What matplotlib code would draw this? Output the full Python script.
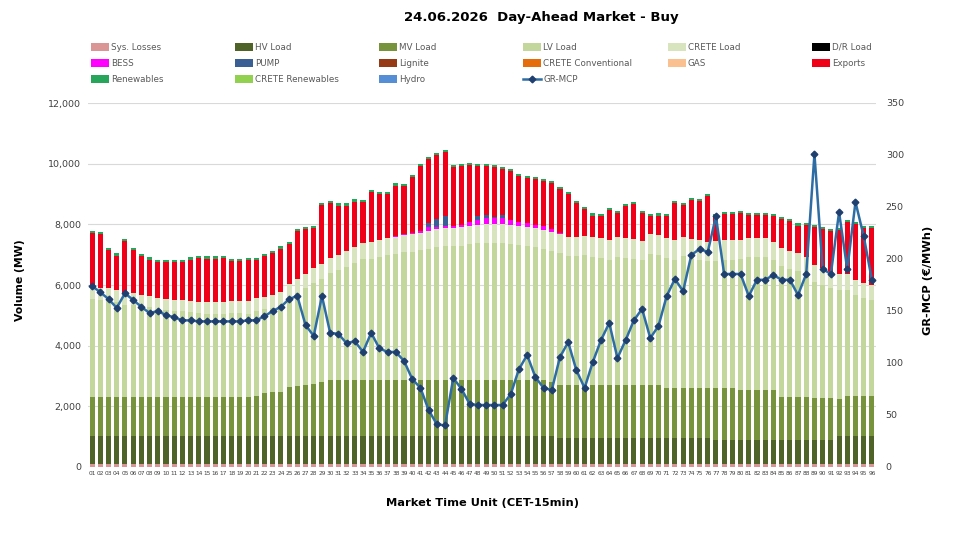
import matplotlib
matplotlib.use("Agg")
import matplotlib.pyplot as plt
import numpy as np
from matplotlib.patches import Rectangle
from matplotlib.lines import Line2D

# market time units 01..96
mtu = [f"{i:02d}" for i in range(1, 97)]

sys_losses = [100, 100, 100, 100, 100, 100, 100, 100, 100, 100, 100, 100, 100, 100, 100, 100,
              100, 100, 100, 100, 100, 100, 100, 100, 100, 110, 110, 110, 110, 110, 110, 110,
              110, 110, 110, 110, 110, 110, 110, 110, 110, 110, 110, 110, 110, 110, 110, 110,
              110, 110, 110, 110, 110, 110, 110, 110, 110, 110, 110, 110, 110, 110, 110, 110,
              110, 110, 110, 110, 110, 110, 110, 110, 110, 110, 110, 110, 110, 110, 110, 110,
              110, 110, 110, 110, 110, 110, 110, 110, 110, 110, 110, 110, 110, 110, 110, 110]
hv_load = [930, 930, 930, 930, 930, 930, 930, 930, 930, 930, 930, 930, 930, 930, 930, 930,
           930, 930, 930, 930, 930, 930, 930, 930, 930, 920, 920, 920, 920, 920, 920, 920,
           920, 920, 920, 920, 920, 920, 920, 920, 920, 920, 920, 920, 920, 920, 920, 920,
           920, 920, 920, 920, 920, 920, 920, 920, 920, 860, 860, 860, 860, 860, 860, 860,
           860, 860, 860, 860, 860, 860, 860, 860, 860, 860, 860, 860, 780, 780, 780, 780,
           780, 780, 780, 780, 780, 780, 780, 780, 780, 780, 780, 910, 910, 910, 910, 910]
mv_load = [1270, 1270, 1270, 1270, 1270, 1270, 1270, 1270, 1270, 1270, 1270, 1270, 1270, 1270, 1270, 1270,
           1270, 1270, 1270, 1270, 1310, 1400, 1430, 1450, 1620, 1640, 1670, 1710, 1780, 1840, 1840, 1840,
           1840, 1840, 1840, 1840, 1840, 1840, 1840, 1840, 1840, 1840, 1840, 1840, 1830, 1830, 1830, 1830,
           1830, 1830, 1830, 1830, 1830, 1830, 1830, 1830, 1770, 1730, 1730, 1730, 1730, 1730, 1730, 1730,
           1730, 1730, 1730, 1730, 1730, 1730, 1630, 1630, 1630, 1630, 1630, 1630, 1710, 1710, 1710, 1650,
           1650, 1650, 1650, 1650, 1430, 1430, 1430, 1430, 1400, 1400, 1400, 1220, 1320, 1320, 1320, 1320]
lv_load = [3225, 3200, 3190, 3140, 3040, 3040, 2990, 2960, 2900, 2860, 2840, 2840, 2800, 2780, 2760, 2760,
           2760, 2780, 2770, 2760, 2810, 2770, 2780, 2860, 2930, 3060, 3190, 3330, 3390, 3510, 3610, 3730,
           3860, 3990, 3990, 4050, 4110, 4150, 4210, 4220, 4270, 4330, 4380, 4400, 4410, 4440, 4480, 4510,
           4530, 4540, 4530, 4500, 4470, 4420, 4380, 4320, 4330, 4340, 4250, 4250, 4280, 4230, 4200, 4140,
           4230, 4200, 4160, 4110, 4320, 4300, 4290, 4230, 4340, 4270, 4230, 4190, 4200, 4240, 4240, 4330,
           4370, 4390, 4380, 4270, 4310, 4220, 4140, 4020, 3810, 3710, 3610, 3590, 3500, 3320, 3240, 3170]
crete_load = [420, 410, 400, 400, 390, 390, 380, 380, 380, 370, 370, 370, 370, 370, 370, 370,
              380, 380, 390, 400, 410, 420, 430, 440, 450, 460, 470, 480, 490, 500, 510, 520,
              530, 540, 550, 560, 560, 570, 570, 580, 580, 590, 590, 600, 600, 600, 610, 610,
              610, 610, 620, 620, 620, 620, 630, 630, 630, 630, 640, 640, 640, 640, 640, 640,
              640, 640, 650, 650, 650, 650, 650, 650, 650, 650, 650, 640, 640, 640, 640, 630,
              630, 620, 620, 610, 600, 590, 580, 570, 560, 550, 540, 530, 520, 510, 500, 490]
bess = [0, 0, 0, 0, 0, 0, 0, 0, 0, 0, 0, 0, 0, 0, 0, 0,
        0, 0, 0, 0, 0, 0, 0, 0, 0, 0, 0, 0, 0, 0, 0, 0,
        0, 0, 0, 0, 0, 30, 30, 40, 70, 110, 70, 90, 70, 90, 140, 165,
        200, 190, 190, 165, 140, 130, 110, 130, 80, 50, 0, 0, 0, 0, 0, 0,
        0, 0, 0, 0, 0, 0, 0, 0, 0, 0, 0, 0, 0, 0, 0, 0,
        0, 0, 0, 0, 0, 0, 0, 0, 0, 0, 0, 0, 0, 0, 0, 0]
pump = [0, 0, 0, 0, 0, 0, 0, 0, 0, 0, 0, 0, 0, 0, 0, 0,
        0, 0, 0, 0, 0, 0, 0, 0, 0, 0, 0, 0, 0, 0, 0, 0,
        0, 0, 0, 0, 0, 0, 0, 0, 0, 140, 275, 300, 0, 0, 0, 130,
        110, 40, 110, 0, 0, 0, 0, 0, 0, 0, 0, 0, 0, 0, 0, 0,
        0, 0, 0, 0, 0, 0, 0, 0, 0, 0, 0, 0, 0, 0, 0, 0,
        0, 0, 0, 0, 0, 0, 0, 0, 0, 0, 0, 0, 0, 0, 0, 0]
exports = [1765, 1760, 1270, 1130, 1720, 1410, 1270, 1200, 1180, 1230, 1250, 1250, 1370, 1440, 1440, 1440,
           1450, 1330, 1330, 1350, 1250, 1320, 1380, 1420, 1330, 1590, 1490, 1340, 1950, 1810, 1630, 1500,
           1490, 1320, 1650, 1520, 1460, 1660, 1590, 1860, 2130, 2120, 2100, 2120, 1950, 1920, 1850, 1660,
           1600, 1650, 1520, 1610, 1490, 1490, 1520, 1500, 1520, 1450, 1420, 1120, 890, 720, 730, 1000,
           810, 1060, 1170, 920, 600, 640, 720, 1230, 1050, 1270, 1280, 1490, 830, 850, 850, 860,
           770, 760, 760, 850, 930, 990, 920, 1080, 1250, 1280, 1340, 1440, 1710, 1850, 1810, 1880]
renewables = [70, 70, 70, 70, 70, 70, 70, 70, 70, 70, 70, 70, 70, 70, 70, 70,
              70, 70, 70, 70, 70, 70, 70, 70, 70, 70, 70, 70, 70, 70, 70, 70,
              70, 70, 70, 70, 70, 70, 70, 70, 70, 70, 70, 70, 70, 70, 70, 70,
              70, 70, 70, 70, 70, 70, 70, 70, 70, 70, 70, 70, 70, 70, 70, 70,
              70, 70, 70, 70, 70, 70, 70, 70, 70, 70, 70, 70, 70, 70, 70, 70,
              70, 70, 70, 70, 70, 70, 70, 70, 70, 70, 70, 70, 70, 70, 70, 70]
gr_mcp = [174, 168, 161.5, 153, 167, 160.6, 154, 148, 150, 146, 144, 141, 141, 140, 140, 140,
          140, 140, 140, 141, 141, 145, 150, 154, 161.5, 164.4, 136.5, 126, 164.4, 129, 128, 119,
          121, 110.6, 129, 114, 110.6, 110.6, 102, 84.6, 76, 54.8, 41, 40, 85.6, 75, 60.6, 59.6,
          59.6, 59.6, 59.6, 70, 94, 107.7, 86.5, 76, 74, 105.8, 120, 93, 76, 101, 122, 138.5,
          104.8, 122, 141, 152, 124, 135.6, 164.4, 180.8, 169, 203.8, 209.6, 206.7, 241, 185.6, 185.6, 185.6,
          164.4, 180, 180, 184.6, 180, 180, 165.4, 185.6, 301, 190.4, 185.6, 245, 190, 254.8, 222, 180]

# stacking order, bottom to top
stack = [
    ("Sys. Losses", sys_losses, "#D99694"),
    ("HV Load", hv_load, "#4F6228"),
    ("MV Load", mv_load, "#77933C"),
    ("LV Load", lv_load, "#C3D69B"),
    ("CRETE Load", crete_load, "#D7E4BD"),
    ("BESS", bess, "#FF00FF"),
    ("PUMP", pump, "#3A5F95"),
    ("Exports", exports, "#F00018"),
    ("Renewables", renewables, "#27A55A"),
]

legend_items = [
    ("Sys. Losses", "#D99694"), ("HV Load", "#4F6228"), ("MV Load", "#77933C"),
    ("LV Load", "#C3D69B"), ("CRETE Load", "#D7E4BD"), ("D/R Load", "#000000"),
    ("BESS", "#FF00FF"), ("PUMP", "#3A5F95"), ("Lignite", "#953A15"),
    ("CRETE Conventional", "#E46C0A"), ("GAS", "#FAC090"), ("Exports", "#F00018"),
    ("Renewables", "#27A55A"), ("CRETE Renewables", "#92D050"), ("Hydro", "#558ED5"),
    ("GR-MCP", None),
]

W, H = 958, 534
fig = plt.figure(figsize=(W / 100, H / 100), dpi=100)
ax = fig.add_axes([88 / W, 1 - 467 / H, (876 - 88) / W, (467 - 103) / H])
ax2 = ax.twinx()

x = np.arange(len(mtu))
bottom = np.zeros(len(mtu))
for name, vals, col in stack:
    v = np.array(vals, dtype=float)
    ax.bar(x, v, bottom=bottom, width=0.62, color=col, linewidth=0, zorder=2)
    bottom += v

ax.set_xlim(-0.5, len(mtu) - 0.5)
ax.set_ylim(0, 12000)
ax.set_yticks(np.arange(0, 12001, 2000))
ax.set_yticklabels([f"{v:,}" for v in range(0, 12001, 2000)], fontsize=6.8, color="#404040")
ax.set_xticks(x)
ax.set_xticklabels(mtu, fontsize=4.2, color="#404040")
ax.tick_params(axis="both", length=0, pad=5)
ax.tick_params(axis="x", pad=3)
ax.grid(axis="y", color="#D9D9D9", linewidth=0.8, zorder=0)
ax.set_axisbelow(True)
for s in ax.spines.values():
    s.set_visible(False)

ax2.plot(x, gr_mcp, color="#2E6DA4", linewidth=1.8, marker="D", markersize=3.4,
         markerfacecolor="#1F3F6E", markeredgecolor="#1F3F6E", zorder=5)
ax2.set_ylim(0, 350)
ax2.set_yticks(np.arange(0, 351, 50))
ax2.set_yticklabels([str(v) for v in range(0, 351, 50)], fontsize=6.8, color="#404040")
ax2.tick_params(axis="y", length=0, pad=7)
for s in ax2.spines.values():
    s.set_visible(False)

fig.text(541 / W, 1 - 17 / H, "24.06.2026  Day-Ahead Market - Buy", ha="center", va="center",
         fontsize=9.5, fontweight="bold", color="#000000")
fig.text(20 / W, 1 - 280 / H, "Volume (MW)", rotation=90, ha="center", va="center",
         fontsize=7.8, fontweight="bold")
fig.text(928 / W, 1 - 280 / H, "GR-MCP (€/MWh)", rotation=90, ha="center", va="center",
         fontsize=8.2, fontweight="bold")
fig.text(482 / W, 1 - 503 / H, "Market Time Unit (CET-15min)", ha="center", va="center",
         fontsize=8.2, fontweight="bold")

# legend, 6 columns x 3 rows
col_x = [91, 235, 379, 523, 668, 812]
row_y = [47, 63, 79]
for i, (name, col) in enumerate(legend_items):
    cx = col_x[i % 6]
    cy = row_y[i // 6]
    if col is None:
        fig.add_artist(Line2D([cx / W, (cx + 18) / W], [1 - cy / H, 1 - cy / H],
                              color="#2E6DA4", linewidth=1.8, transform=fig.transFigure))
        fig.add_artist(Line2D([(cx + 9) / W], [1 - cy / H], marker="D", markersize=3.4,
                              color="#1F3F6E", transform=fig.transFigure))
    else:
        fig.add_artist(Rectangle((cx / W, 1 - (cy + 3.5) / H), 18 / W, 7 / H,
                                 facecolor=col, edgecolor="none", transform=fig.transFigure))
    fig.text((cx + 20) / W, 1 - cy / H, name, ha="left", va="center", fontsize=6.3,
             color="#595959")

fig.savefig("out.png", dpi=100)
